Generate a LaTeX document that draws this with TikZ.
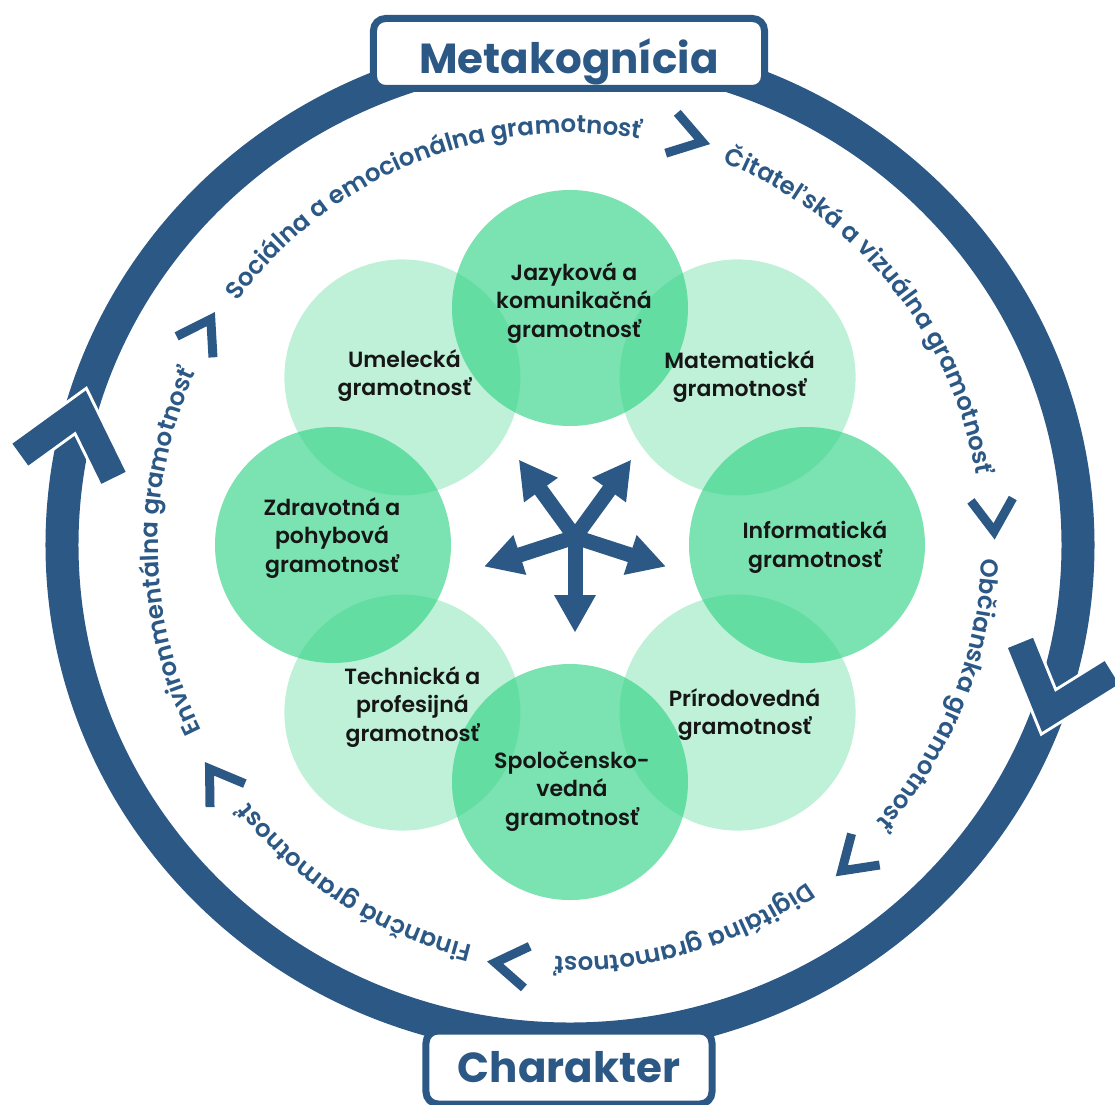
\documentclass[tikz,border=0pt]{standalone}
\usepackage{fontspec}
\setmainfont{Poppins}
\newfontfamily\semifont{Poppins}[UprightFont={* SemiBold}]
\usetikzlibrary{arrows.meta,decorations.text}

\definecolor{ringblue}{RGB}{44,88,133}
\definecolor{discgreen}{RGB}{52,211,135}
\definecolor{labelblack}{RGB}{22,22,22}

\newcommand{\ringfont}{\fontsize{24.5}{24.5}\selectfont\semifont}
\newcommand{\discfont}{\fontsize{22}{28.5}\selectfont\semifont}
\newcommand{\titlefont}{\fontsize{42}{42}\selectfont\bfseries}

\begin{document}
\begin{tikzpicture}[x=1pt, y=1pt,
    ring/.style={draw=ringblue, line width=33pt},
    bigchev/.style={draw=ringblue, line width=27pt, line join=miter},
    bigchevrim/.style={draw=white, line width=33pt, line join=miter},
    smallchev/.style={draw=ringblue, line width=9pt, line join=miter},
    darkdisc/.style={circle, fill=discgreen, fill opacity=0.65, minimum size=236pt, inner sep=0pt},
    lightdisc/.style={circle, fill=discgreen, fill opacity=0.32, minimum size=236pt, inner sep=0pt},
    disclabel/.style={font=\discfont, text=labelblack, align=center},
    titlebox/.style={draw=ringblue, line width=7pt, fill=white, rounded corners=12pt,
      inner sep=0pt, font=\titlefont, text=ringblue},
    spoke/.style={color=ringblue, line width=15pt, line cap=round,
      -{Triangle[width=42pt, length=37pt, line width=0pt]}},
    ringtext/.style={decorate, decoration={text along path, text align=center,
      text color=ringblue, text={|\ringfont|#1}}},
  ]
  \useasboundingbox (-570, -559) rectangle (545, 545);

  \draw[ring] (0, 0) ellipse [x radius=508, y radius=494];

  \begin{scope}[shift={(166:508 and 494)}, rotate=76]
    \draw[bigchevrim] (-42, 48) -- (15, 0) -- (-42, -48);
    \draw[bigchev] (-42, 48) -- (15, 0) -- (-42, -48);
  \end{scope}
  \begin{scope}[shift={(-18:508 and 494)}, rotate=-108]
    \draw[bigchevrim] (-42, 48) -- (15, 0) -- (-42, -48);
    \draw[bigchev] (-42, 48) -- (15, 0) -- (-42, -48);
  \end{scope}

  \node[titlebox, minimum width=391pt, minimum height=70pt, text height=40pt, text depth=0pt]
    (meta) at (-1, 491.5) {Metakognícia};
  \node[titlebox, minimum width=286pt, minimum height=73pt, text height=30pt, text depth=0pt]
    (charakter) at (-1, -522.5) {Charakter};

  \foreach \a in {74, 4, -48, -98, -146, 150} {
    \begin{scope}[shift={(\a:424)}, rotate=\a-90]
      \draw[smallchev] (-16, 21) -- (16, 0) -- (-16, -21);
    \end{scope}
  }

  \path[ringtext={Sociálna a emocionálna gramotnosť}] (149:412) arc[start angle=149, end angle=75, radius=412];
  \path[ringtext={Čitateľská a vizuálna gramotnosť}] (72:412) arc[start angle=72, end angle=6, radius=412];
  \path[ringtext={Občianska gramotnosť}] (2:412) arc[start angle=2, end angle=-46, radius=412];
  \path[ringtext={Digitálna gramotnosť}] (-51:412) arc[start angle=-51, end angle=-96, radius=412];
  \path[ringtext={Finančná gramotnosť}] (-101:412) arc[start angle=-101, end angle=-144, radius=412];
  \path[ringtext={Environmentálna gramotnosť}] (-148:412) arc[start angle=-148, end angle=-210, radius=412];

  \node[lightdisc] (umel) at (135:237) {};
  \node[lightdisc] (mat) at (45:237) {};
  \node[lightdisc] (prir) at (-45:237) {};
  \node[lightdisc] (tech) at (-135:237) {};
  \node[darkdisc] (jazyk) at (90:237) {};
  \node[darkdisc] (info) at (0:237) {};
  \node[darkdisc] (spol) at (-90:237) {};
  \node[darkdisc] (zdrav) at (180:237) {};

  \node[disclabel] at ([shift={(4, 5)}]jazyk) {Jazyková a\\komunikačná\\gramotnosť};
  \node[disclabel] at ([shift={(2, 1)}]mat) {Matematická\\gramotnosť};
  \node[disclabel] at ([shift={(8, -2)}]info) {Informatická\\gramotnosť};
  \node[disclabel] at ([shift={(7, -2)}]prir) {Prírodovedná\\gramotnosť};
  \node[disclabel] at ([shift={(2, -9)}]spol) {Spoločensko-\\vedná\\gramotnosť};
  \node[disclabel] at ([shift={(10, 6)}]tech) {Technická a\\profesijná\\gramotnosť};
  \node[disclabel] at ([shift={(-1, 7)}]zdrav) {Zdravotná a\\pohybová\\gramotnosť};
  \node[disclabel] at ([shift={(2, 2)}]umel) {Umelecká\\gramotnosť};

  \coordinate (hub) at (5, 8);
  \foreach \a in {270, 198, 126, 54, 342} {
    \path (hub) ++(\a:95) coordinate (tip\a);
    \draw[spoke] (hub) -- (tip\a);
  }
\end{tikzpicture}
\end{document}
